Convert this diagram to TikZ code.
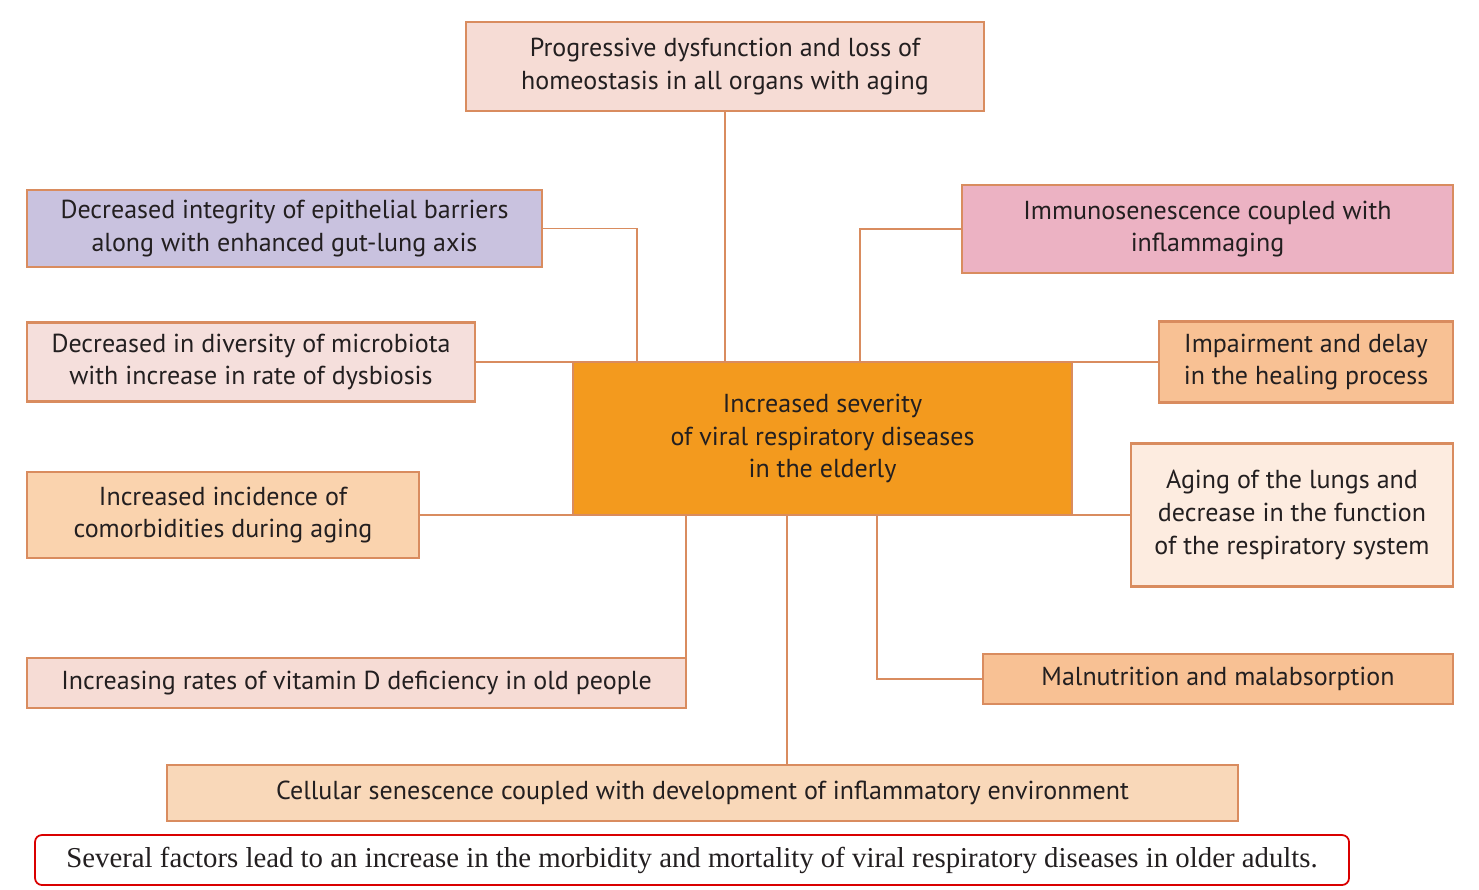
\documentclass[tikz,border=0pt]{standalone}
\usepackage{fontspec}
\setmainfont{PT Sans}
\newfontfamily\capfont{Liberation Serif}
\usepackage{xcolor}
\definecolor{edge}{HTML}{D98C5F}
\definecolor{txt}{HTML}{231F20}
\definecolor{pinkA}{HTML}{F6DCD5}
\definecolor{lavA}{HTML}{C9C2DF}
\definecolor{pinkB}{HTML}{F5DFDC}
\definecolor{peachA}{HTML}{FAD3AE}
\definecolor{peachB}{HTML}{F9D8B9}
\definecolor{orangeC}{HTML}{F39A1E}
\definecolor{roseA}{HTML}{ECB2C3}
\definecolor{peachC}{HTML}{F8C194}
\definecolor{creamA}{HTML}{FDECE0}
\usetikzlibrary{positioning}

\begin{document}
\begin{tikzpicture}[x=0.02cm,y=-0.02cm,
  bx/.style n args={3}{draw=edge,line width=1.4pt,fill=#1,rectangle,inner sep=0pt,
    minimum width=#2*0.02cm,minimum height=#3*0.02cm,align=center,text=txt,
    font=\fontsize{14.8}{18.7}\selectfont},
  wire/.style={draw=edge,line width=1.1pt}]
\useasboundingbox (0,0) rectangle (1479,889);
\node[bx={pinkA}{518}{89}] (prog) at (725,66.5) {Progressive dysfunction and loss of\\homeostasis in all organs with aging};
\node[bx={lavA}{515}{77}] (epith) at (284.5,228.5) {Decreased integrity of epithelial barriers\\along with enhanced gut-lung axis};
\node[bx={pinkB}{448}{79}] (micro) at (251,362) {Decreased in diversity of microbiota\\with increase in rate of dysbiosis};
\node[bx={peachA}{392}{86}] (comorb) at (223,515) {Increased incidence of\\comorbidities during aging};
\node[bx={pinkA}{659}{50}] (vitd) at (356.5,683) {Increasing rates of vitamin D deficiency in old people};
\node[bx={peachB}{1071}{56}] (cell) at (702.5,793) {Cellular senescence coupled with development of inflammatory environment};
\node[bx={orangeC}{499}{153}] (ctr) at (822.5,438.5) {Increased severity\\of viral respiratory diseases\\in the elderly};
\node[bx={roseA}{491}{88}] (immuno) at (1207.5,229) {Immunosenescence coupled with\\inflammaging};
\node[bx={peachC}{294}{81}] (heal) at (1306,362) {Impairment and delay\\in the healing process};
\node[bx={creamA}{322}{143}] (lungs) at (1292,515) {Aging of the lungs and\\decrease in the function\\of the respiratory system};
\node[bx={peachC}{470}{50}] (maln) at (1218,679) {Malnutrition and malabsorption};
\node[draw=red!85!black,line width=1pt,rounded corners=4pt,fill=white,inner sep=0pt,
  minimum width=1314*0.02cm,minimum height=50*0.02cm,text=txt,
  font=\capfont\fontsize{16.4}{19}\selectfont] (note) at (692,860)
  {\raisebox{-2pt}{Several factors lead to an increase in the morbidity and mortality of viral respiratory diseases in older adults.}};
% junctions on the central box
\coordinate (j1) at (637,362);
\coordinate (j2) at (860,362);
\coordinate (j3) at (686,515);
\coordinate (j4) at (787,515);
\coordinate (j5) at (877,515);
\draw[wire] (prog.south) -- (prog.south |- ctr.north);
\draw[wire] (epith.east) -| (j1);
\draw[wire] (immuno.west) -| (j2);
\draw[wire] (micro.east) -- (micro.east -| ctr.west);
\draw[wire] (heal.west) -- (heal.west -| ctr.east);
\draw[wire] (comorb.east) -- (comorb.east -| ctr.west);
\draw[wire] (lungs.west) -- (lungs.west -| ctr.east);
\draw[wire] (j3 |- vitd.north) -- (j3);
\draw[wire] (j4) -- (j4 |- cell.north);
\draw[wire] (j5) |- (maln.west);
\end{tikzpicture}
\end{document}
